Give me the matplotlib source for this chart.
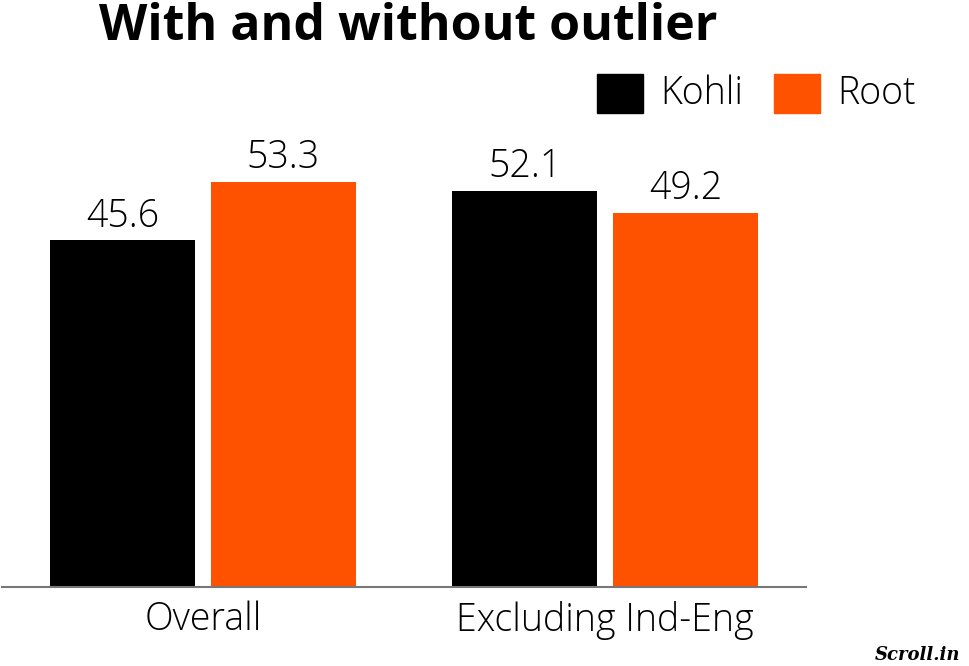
import matplotlib
matplotlib.use("Agg")
import matplotlib.pyplot as plt
from matplotlib.patches import Rectangle
import numpy as np

# data
categories = ["Overall", "Excluding Ind-Eng"]
players = ["Kohli", "Root"]
kohli = [45.6, 52.1]
root = [53.3, 49.2]
colors = ["#000000", "#ff5200"]

plt.rcParams['font.family'] = ['Open Sans', 'DejaVu Sans']

W, H = 969, 666
fig = plt.figure(figsize=(W / 100, H / 100), dpi=100)

# axes placed in pixel coords: left 2, right 806, bottom 587, top 120
ax = fig.add_axes([2 / W, 1 - 587 / H, 804 / W, 467 / H])
x = np.arange(len(categories))
bw = 0.36
for i, (vals, c) in enumerate(zip([kohli, root], colors)):
    off = (i - 0.5) * 0.40
    bars = ax.bar(x + off, vals, width=bw, color=c)
    for b, v in zip(bars, vals):
        ax.text(b.get_x() + b.get_width() / 2, v + 0.6, f"{v}",
                ha='center', va='bottom', fontsize=27, fontweight='light')

ax.set_xlim(-0.5, 1.5)
ax.set_ylim(0, 61.4)
for s in ['top', 'right', 'left']:
    ax.spines[s].set_visible(False)
ax.spines['bottom'].set_color('#777777')
ax.spines['bottom'].set_linewidth(1.5)
ax.set_yticks([])
ax.set_xticks(x)
ax.set_xticklabels(categories, fontsize=27, fontweight='light')
ax.tick_params(axis='x', length=0, pad=10)

fig.text(408 / W, 1 - 40 / H, "With and without outlier", ha='center', va='baseline',
         fontsize=36, fontweight='bold')

# legend
for name, c, px, tx in zip(players, colors, [597, 774], [660, 837]):
    fig.patches.append(Rectangle((px / W, 1 - 113 / H), 46 / W, 39 / H,
                                 transform=fig.transFigure, color=c))
    fig.text(tx / W, 1 - 94 / H, name, ha='left', va='center',
             fontsize=27, fontweight='light')

fig.text(960 / W, 1 - 655 / H, "Scroll.in", ha='right', va='center',
         fontsize=13, fontweight='bold', fontstyle='italic', family='DejaVu Serif')

fig.savefig("out.png", dpi=100)
